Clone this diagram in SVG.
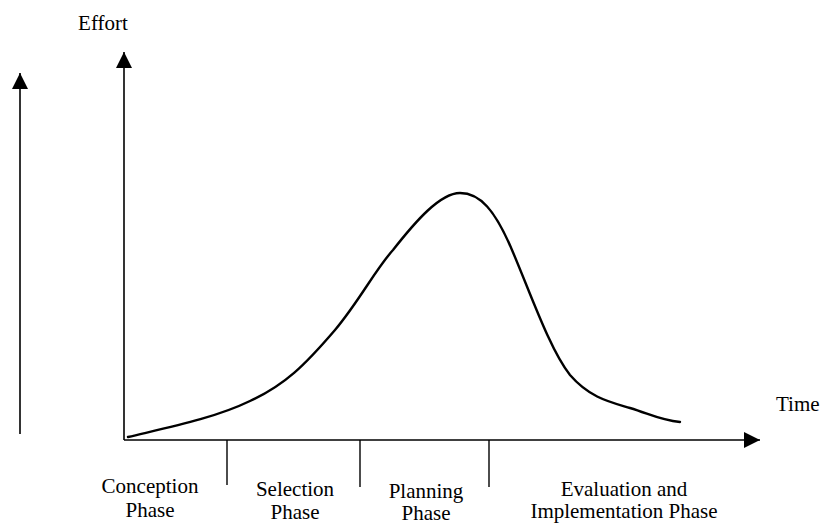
<svg xmlns="http://www.w3.org/2000/svg" width="820" height="524" viewBox="0 0 820 524">
  <style>
    .lbl { font-family: "Liberation Serif", "Times New Roman", serif; font-size: 21px; fill: #000; }
    .mid { text-anchor: middle; }
    .axis { stroke: #000; stroke-width: 1.6; fill: none; }
    .tick { stroke: #000; stroke-width: 1.4; fill: none; }
    .curve { stroke: #000; stroke-width: 2.4; fill: none; stroke-linecap: round; stroke-linejoin: round; }
  </style>
  <defs>
    <marker id="head" viewBox="0 0 16 16" refX="16" refY="8" markerWidth="16" markerHeight="16" markerUnits="userSpaceOnUse" orient="auto">
      <path d="M0,0 L16,8 L0,16 Z" fill="#000"/>
    </marker>
  </defs>
  <rect width="820" height="524" fill="#fff"/>

  <!-- axes, arrows and phase dividers -->
  <g id="connectors">
    <line class="axis" x1="20" y1="434" x2="20" y2="73" marker-end="url(#head)"/>
    <line class="axis" x1="124" y1="440" x2="124" y2="52" marker-end="url(#head)"/>
    <line class="axis" x1="124" y1="440" x2="760" y2="440" marker-end="url(#head)"/>
    <line class="tick" x1="227" y1="440" x2="227" y2="485"/>
    <line class="tick" x1="360" y1="440" x2="360" y2="487"/>
    <line class="tick" x1="489" y1="440" x2="489" y2="487"/>
  </g>

  <!-- effort curve over time -->
  <g id="effort-curve">
    <path class="curve" d="M128,437 C170,427 215,418 250,401 C285,385 305,365 335,330 C360,300 375,270 393,250 C415,222 440,193 460,193 C480,193 495,210 512,250 C530,292 550,350 570,375 C590,398 610,402 630,408 C650,414 660,420 680,422"/>
  </g>

  <g id="label-effort">
    <text class="lbl mid" x="103" y="30">Effort</text>
  </g>
  <g id="label-time">
    <text class="lbl" x="776" y="411">Time</text>
  </g>

  <g id="phase-conception">
    <text class="lbl mid" x="150" y="493">Conception</text>
    <text class="lbl mid" x="150" y="517">Phase</text>
  </g>
  <g id="phase-selection">
    <text class="lbl mid" x="295" y="496">Selection</text>
    <text class="lbl mid" x="295" y="519">Phase</text>
  </g>
  <g id="phase-planning">
    <text class="lbl mid" x="426" y="498">Planning</text>
    <text class="lbl mid" x="426" y="520">Phase</text>
  </g>
  <g id="phase-evaluation">
    <text class="lbl mid" x="624" y="496">Evaluation and</text>
    <text class="lbl mid" x="624" y="518">Implementation Phase</text>
  </g>
</svg>
